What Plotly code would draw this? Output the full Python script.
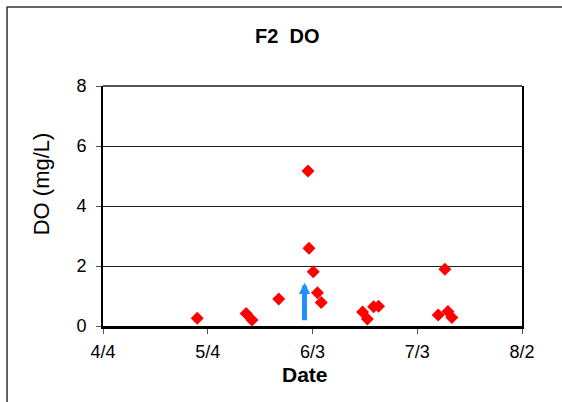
import plotly.graph_objects as go

# Data
dates = [
    "2007-05-01 00:00", "2007-05-15 00:00", "2007-05-16 16:00", "2007-05-24 08:00",
    "2007-06-01 17:00", "2007-06-02 00:00", "2007-06-03 05:00", "2007-06-04 10:00",
    "2007-06-05 12:00", "2007-06-17 08:00", "2007-06-18 17:00", "2007-06-20 12:00",
    "2007-06-21 22:00", "2007-07-09 00:00", "2007-07-10 22:00", "2007-07-11 19:00",
    "2007-07-12 22:00",
]
do_values = [0.26, 0.42, 0.20, 0.90, 5.17, 2.59, 1.81, 1.11, 0.78,
             0.47, 0.23, 0.64, 0.66, 0.37, 1.89, 0.48, 0.28]

tick_dates = ["2007-04-04", "2007-05-04", "2007-06-03", "2007-07-03", "2007-08-02"]
tick_labels = ["4/4", "5/4", "6/3", "7/3", "8/2"]
y_ticks = [0, 2, 4, 6, 8]

arrow_date = "2007-05-31 17:00"
arrow_from = 0.14
arrow_to = 1.44

FONT = "Arial, Liberation Sans, sans-serif"

fig = go.Figure()
fig.add_trace(go.Scatter(
    x=dates, y=do_values, mode="markers",
    marker=dict(symbol="diamond", size=10, color="#FF0000", line=dict(width=0)),
    showlegend=False,
))

fig.add_annotation(
    x=arrow_date, y=arrow_to, ax=arrow_date, ay=arrow_from,
    xref="x", yref="y", axref="x", ayref="y",
    showarrow=True, arrowhead=2, arrowwidth=5, arrowsize=0.45,
    arrowcolor="#1E90FF", text="",
)

fig.update_layout(
    width=562, height=402,
    margin=dict(l=103, r=40, t=86, b=76, pad=0),
    paper_bgcolor="white", plot_bgcolor="white",
    font=dict(family=FONT, color="black", size=18),
    xaxis=dict(
        type="date", range=[tick_dates[0], tick_dates[-1]],
        tickmode="array", tickvals=tick_dates, ticktext=tick_labels,
        ticks="outside", ticklen=5, tickwidth=1, tickcolor="#555",
        showgrid=False, zeroline=False,
        showline=True, linecolor="black", linewidth=3,
        tickfont=dict(size=18, family=FONT), ticklabelstandoff=2,
    ),
    yaxis=dict(
        range=[0, 8], tickmode="array", tickvals=y_ticks,
        ticks="outside", ticklen=5, tickwidth=1, tickcolor="#555",
        showgrid=True, gridcolor="#222", gridwidth=1, zeroline=False,
        showline=True, linecolor="black", linewidth=2, mirror=True,
        tickfont=dict(size=18, family=FONT), ticklabelstandoff=6,
    ),
)

# top border of plot area
fig.add_shape(type="line", xref="paper", yref="paper", x0=0, x1=1, y0=1, y1=1,
              line=dict(color="#555", width=2))
# outer chart frame (top and left edges visible)
fig.add_shape(type="line", xref="paper", yref="paper", x0=-0.23, x1=1.2, y0=1.329, y1=1.329,
              line=dict(color="#333", width=1.5))
fig.add_shape(type="line", xref="paper", yref="paper", x0=-0.229, x1=-0.229, y0=1.329, y1=-0.4,
              line=dict(color="#333", width=1.5))

fig.add_annotation(text="<b>F2  DO</b>", xref="paper", yref="paper", x=0.438, y=1.207,
                   xanchor="center", yanchor="middle", showarrow=False,
                   font=dict(size=20, family=FONT))
fig.add_annotation(text="<b>Date</b>", xref="paper", yref="paper", x=0.482, y=-0.2,
                   xanchor="center", yanchor="middle", showarrow=False,
                   font=dict(size=21, family=FONT))
fig.add_annotation(text="DO (mg/L)", xref="paper", yref="paper", x=-0.146, y=0.594,
                   xanchor="center", yanchor="middle", showarrow=False, textangle=-90,
                   font=dict(size=22, family=FONT))

fig.write_html("out.html")
